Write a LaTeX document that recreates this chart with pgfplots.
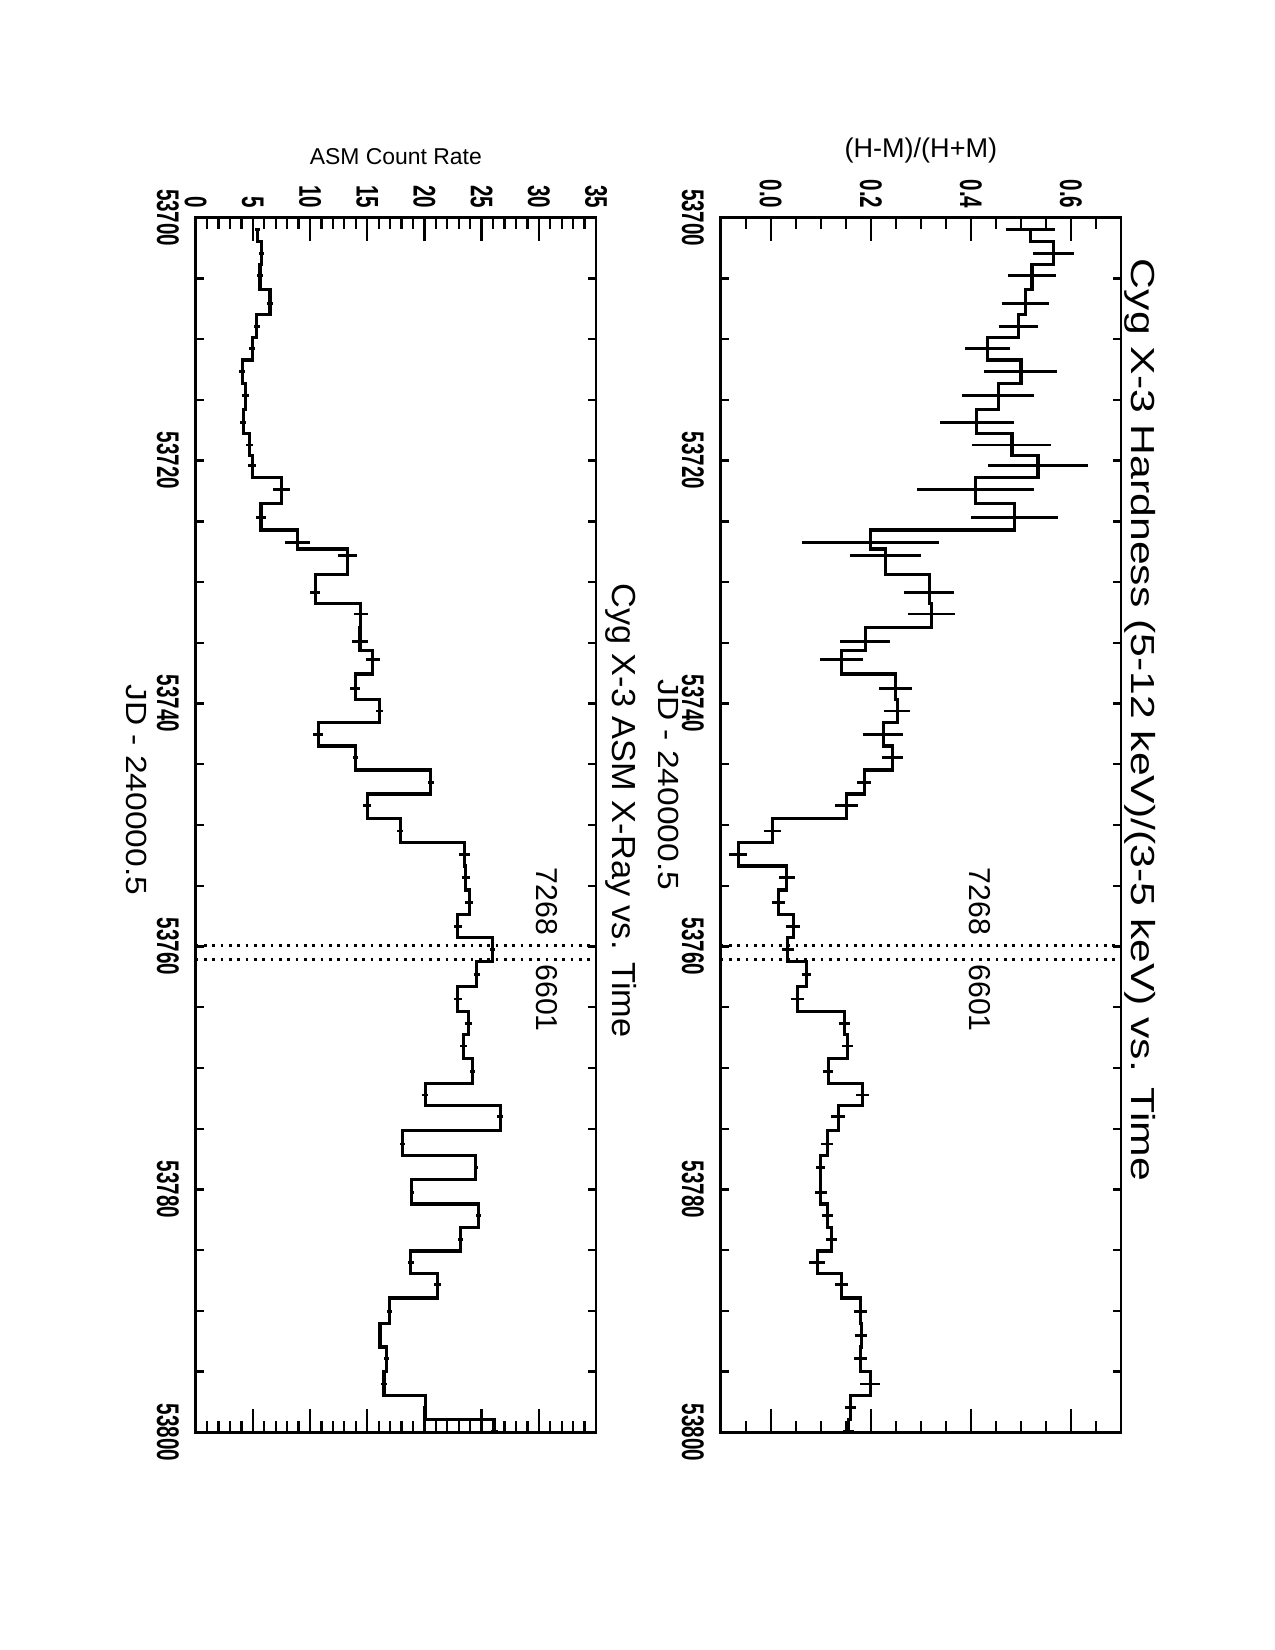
\documentclass[border=0pt]{standalone}
\usepackage{pgfplots}
\pgfplotsset{compat=1.18}
\usepackage{pgfplotstable}
\usepackage{fontspec}
\setmainfont{Liberation Sans}
\newfontfamily\titleRfont[FakeStretch=1.28]{Liberation Sans}
\newfontfamily\titleLfont[FakeStretch=1.03]{Liberation Sans}
\newfontfamily\jdfont[FakeStretch=1.15]{Liberation Sans}
\newfontfamily\tickfont[FakeStretch=0.66]{Liberation Sans}

\pgfplotstableread{
jd h he r re
0.95 0.519 0.049 5.42 0.19
2.93 0.565 0.040 5.77 0.25
4.77 0.522 0.048 5.63 0.25
7.05 0.509 0.047 6.50 0.26
8.94 0.495 0.039 5.34 0.25
10.75 0.433 0.045 4.95 0.25
12.68 0.500 0.073 4.08 0.25
14.65 0.455 0.072 4.37 0.29
16.86 0.412 0.074 4.17 0.26
18.71 0.482 0.079 4.69 0.32
20.42 0.534 0.099 4.95 0.36
22.36 0.410 0.117 7.52 0.76
24.70 0.487 0.087 5.71 0.41
26.73 0.200 0.137 8.92 1.10
27.83 0.230 0.071 13.27 0.86
30.87 0.317 0.050 10.44 0.44
32.63 0.322 0.047 14.43 0.60
34.91 0.189 0.050 14.37 0.70
36.36 0.141 0.043 15.49 0.61
38.78 0.250 0.033 13.94 0.41
40.61 0.253 0.026 16.06 0.32
42.53 0.225 0.040 10.73 0.44
44.46 0.244 0.021 13.94 0.22
46.49 0.187 0.014 20.56 0.28
48.41 0.152 0.023 15.01 0.36
50.49 0.004 0.017 17.87 0.29
52.41 -0.065 0.018 23.47 0.48
54.34 0.032 0.016 23.62 0.36
56.37 0.015 0.013 23.91 0.34
58.34 0.045 0.014 22.92 0.36
60.25 0.034 0.012 25.95 0.22
62.29 0.072 0.009 24.58 0.26
64.33 0.053 0.013 22.92 0.34
66.33 0.147 0.011 23.85 0.29
68.20 0.154 0.011 23.41 0.29
70.31 0.115 0.010 24.20 0.26
72.23 0.183 0.013 20.09 0.26
74.02 0.135 0.014 26.62 0.29
76.26 0.113 0.012 18.08 0.22
78.18 0.099 0.009 24.50 0.19
80.24 0.100 0.012 18.90 0.20
82.17 0.113 0.011 24.73 0.23
84.11 0.122 0.011 23.18 0.22
86.04 0.093 0.016 18.81 0.29
87.82 0.141 0.013 21.14 0.29
90.07 0.179 0.013 16.91 0.22
92.05 0.181 0.012 16.12 0.19
93.91 0.179 0.013 16.71 0.23
96.02 0.199 0.020 16.47 0.29
97.97 0.159 0.011 20.06 0.20
99.90 0.155 0.011 26.15 0.30
}\datatab

\pgfplotsset{
  cygaxis/.style={
    width=583pt, height=192.2pt, scale only axis,
    xmin=0, xmax=100,
    clip mode=individual,
    xtick={0,20,40,60,80,100},
    xticklabels={53700,53720,53740,53760,53780,53800},
    minor x tick num=3,
    axis line style={line width=1.2pt},
    tick style={line width=1.1pt, black},
    tick align=inside,
    major tick length=11pt, minor tick length=5.3pt,
    xtick style={/pgfplots/major tick length=3.8pt,/pgfplots/minor tick length=3.8pt},
    ticklabel style={font=\fontsize{15}{17}\selectfont\tickfont\bfseries},
    xticklabel style={yshift=-4.5pt},
    yticklabel style={xshift=-1pt},
    /pgf/number format/assume math mode=true,
    xlabel={JD - 240000.5},
    xlabel style={font=\fontsize{14}{17}\selectfont\jdfont, anchor=center},
    ylabel style={rotate=0, anchor=center},
  },
  stepline/.style={black, line width=1.5pt, const plot mark mid, mark=none,
    error bars/.cd, y dir=both, y explicit, error mark=none,
    error bar style={line width=1.3pt, black}},
  vdot/.style={black, line width=1.3pt, dash pattern=on 1.3pt off 2.7pt, forget plot},
}

\begin{document}
\begin{tikzpicture}[rotate=-90, transform shape]
\path (0,0) rectangle (792pt,612pt);

% Upper (hardness) panel
\begin{axis}[cygaxis,
  at={(104.5pt,345.9pt)}, anchor=south west,
  ymin=-0.1, ymax=0.7,
  ytick={0,0.2,0.4,0.6},
  yticklabels={0.0,0.2,0.4,0.6},
  minor ytick={-0.05,0.05,0.1,0.15,0.25,0.3,0.35,0.45,0.5,0.55,0.65},
  ylabel={(H-M)/(H+M)},
  ylabel style={at={(axis description cs:-0.0557,0.5)}, font=\fontsize{13}{15}\selectfont},
  xlabel style={at={(axis description cs:0.467,-0.13)}},
]
\addplot[stepline] table[x=jd, y=h, y error=he] {\datatab};
\addplot[vdot] coordinates {(59.9,-0.1) (59.9,0.7)};
\addplot[vdot] coordinates {(61.05,-0.1) (61.05,0.7)};
\node[anchor=east, inner sep=0pt, font=\fontsize{14.5}{17}\selectfont] at (axis cs:59.1,0.417) {7268};
\node[anchor=west, inner sep=0pt, font=\fontsize{14.5}{17}\selectfont] at (axis cs:61.45,0.417) {6601};
\node[anchor=south, inner sep=0pt, font=\fontsize{16}{19}\selectfont\titleRfont] at (axis description cs:0.4136,1.008) {Cyg X-3 Hardness (5-12 keV)/(3-5 keV) vs. Time};
\end{axis}

% Lower (ASM) panel
\begin{axis}[cygaxis,
  at={(104.5pt,93.9pt)}, anchor=south west,
  ymin=0, ymax=35,
  ytick={0,5,10,15,20,25,30,35},
  yticklabels={0,5,10,15,20,25,30,35},
  minor y tick num=4,
  ylabel={ASM Count Rate},
  ylabel style={at={(axis description cs:-0.0506,0.5)}, font=\fontsize{11}{13}\selectfont},
  xlabel style={at={(axis description cs:0.471,-0.147)}},
]
\addplot[stepline] table[x=jd, y=r, y error=re] {\datatab};
\addplot[vdot] coordinates {(59.9,0) (59.9,35)};
\addplot[vdot] coordinates {(61.05,0) (61.05,35)};
\node[anchor=east, inner sep=0pt, font=\fontsize{14.5}{17}\selectfont] at (axis cs:59.1,30.7) {7268};
\node[anchor=west, inner sep=0pt, font=\fontsize{14.5}{17}\selectfont] at (axis cs:61.45,30.7) {6601};
\node[anchor=south, inner sep=0pt, font=\fontsize{16}{19}\selectfont\titleLfont] at (axis description cs:0.488,1.022) {Cyg X-3 ASM X-Ray vs. Time};
\end{axis}
\end{tikzpicture}
\end{document}
